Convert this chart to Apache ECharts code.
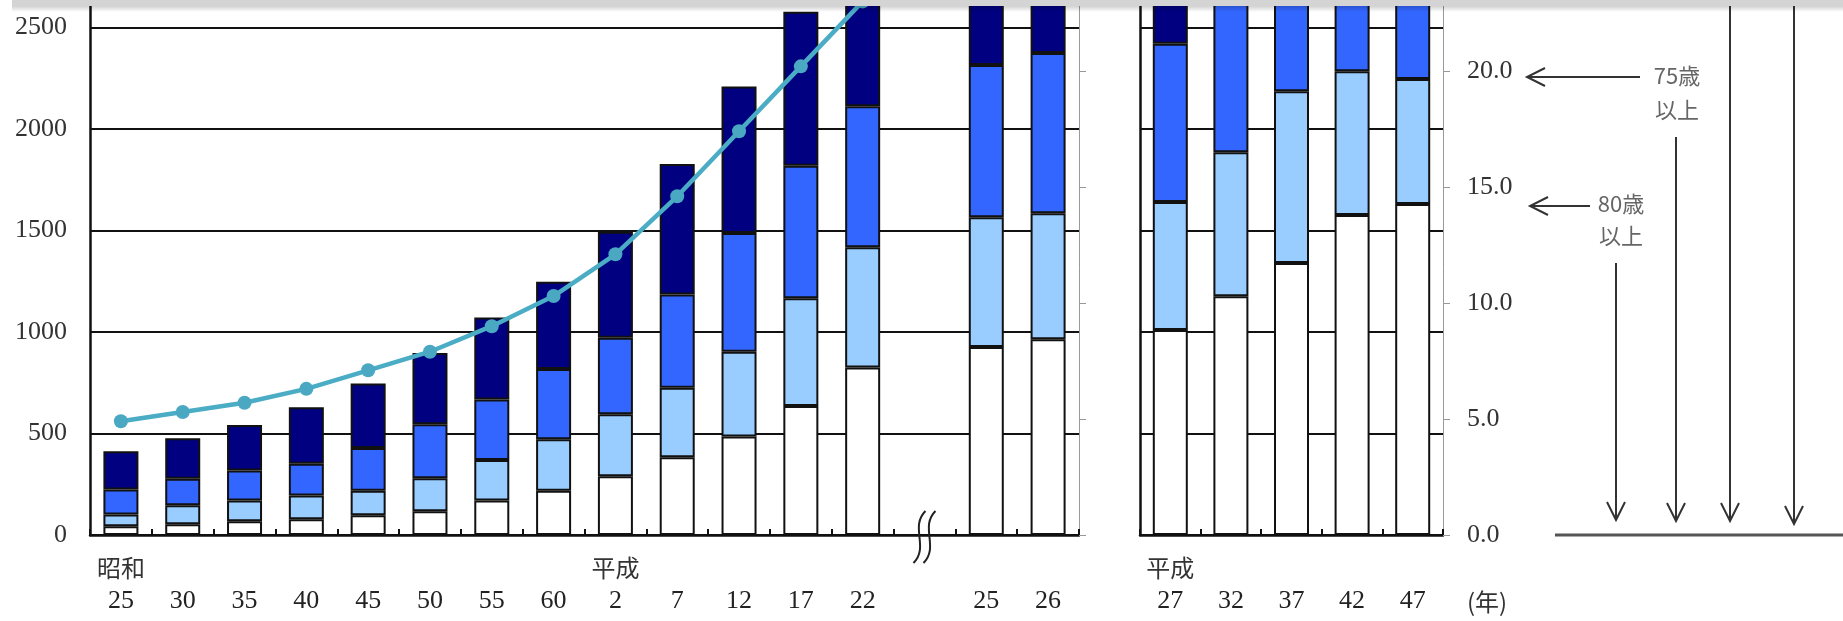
<!DOCTYPE html>
<html>
<head>
<meta charset="utf-8">
<script src="https://cdn.jsdelivr.net/npm/echarts@6/dist/echarts.min.js"></script>
<style>
html, body { margin: 0; padding: 0; background: #fff; }
#chart { width: 1843px; height: 621px; }
</style>
</head>
<body>
<div id="chart"></div>
<script>
// 年次（左パネル：実績、右パネル：推計）
var years1 = ['25', '30', '35', '40', '45', '50', '55', '60', '2', '7', '12', '17', '22', '', '25', '26'];
var eras1 = ['昭和', '', '', '', '', '', '', '', '平成', '', '', '', '', '', '', ''];
var years2 = ['27', '32', '37', '42', '47'];
var eras2 = ['平成', '', '', '', ''];

// 年齢階級別人口（万人） 下から 80歳以上 / 75〜79歳 / 70〜74歳 / 65〜69歳
var age80_1 = [43, 53, 68, 78, 97, 117, 170, 218, 290, 383, 485, 636, 825, '-', 926, 964];
var age75_1 = [58, 93, 102, 117, 121, 162, 200, 254, 305, 342, 418, 530, 593, '-', 639, 621];
var age70_1 = [123, 131, 148, 156, 211, 267, 298, 346, 377, 460, 585, 653, 694, '-', 750, 790];
var age65_1 = [189, 200, 224, 278, 317, 350, 404, 429, 522, 643, 721, 758, 813, '-', 875, 925];

var age80_2 = [1010, 1176, 1340, 1576, 1630];
var age75_2 = [630, 709, 846, 709, 616];
var age70_2 = [780, 895, 714, 675, 734];
var age65_2 = [975, 830, 760, 730, 760];

// 高齢化率（%）
var rate1 = [4.9, 5.3, 5.7, 6.3, 7.1, 7.9, 9.0, 10.3, 12.1, 14.6, 17.4, 20.2, 23.0, '-', 25.1, 26.0];

var colors = ['#ffffff', '#99ccff', '#3366ff', '#000080'];

var myChart = echarts.init(document.getElementById('chart'));

var numFont = '"Liberation Serif", serif';
var cjkFont = '"Noto Sans CJK JP", sans-serif';

function xLabel(eras) {
    return {
        interval: 0,
        margin: 17,
        formatter: function (v, i) {
            return '{e|' + (eras[i] || '　') + '}\n{n|' + v + '}';
        },
        rich: {
            e: { fontFamily: cjkFont, fontSize: 24, lineHeight: 32, color: '#333' },
            n: { fontFamily: numFont, fontSize: 26, lineHeight: 34, color: '#222' }
        }
    };
}

function xAxis(idx, data, eras) {
    return {
        type: 'category',
        gridIndex: idx,
        data: data,
        boundaryGap: true,
        axisLine: { lineStyle: { color: '#111', width: 2.5 } },
        axisTick: { show: true, inside: true, length: 6, lineStyle: { color: '#111', width: 2 } },
        axisLabel: xLabel(eras),
        splitLine: { show: false }
    };
}

function leftAxis(idx, showLabel) {
    return {
        type: 'value',
        gridIndex: idx,
        min: 0,
        max: 4000,
        interval: 500,
        axisLine: { show: true, lineStyle: { color: '#111', width: 2.5 } },
        axisTick: { show: false },
        axisLabel: {
            show: showLabel,
            margin: 23,
            fontFamily: numFont,
            fontSize: 26,
            color: '#333',
            formatter: function (v) { return String(v); }
        },
        splitLine: { show: true, lineStyle: { color: '#111', width: 2 } }
    };
}

function rightAxis(idx, showLabel) {
    return {
        type: 'value',
        gridIndex: idx,
        position: 'right',
        min: 0,
        max: 35,
        interval: 5,
        axisLine: { show: true, lineStyle: { color: '#999', width: 1 } },
        axisTick: { show: true, length: 7, lineStyle: { color: '#999', width: 1 } },
        axisLabel: {
            show: showLabel,
            margin: 24,
            align: 'left',
            fontFamily: numFont,
            fontSize: 26,
            color: '#333',
            formatter: function (v) { return v.toFixed(1); }
        },
        splitLine: { show: false }
    };
}

function barSeries(name, data, color, xi, yi, stack) {
    return {
        name: name,
        type: 'bar',
        stack: stack,
        xAxisIndex: xi,
        yAxisIndex: yi,
        barWidth: 35,
        data: data,
        itemStyle: { color: color, borderColor: '#111', borderWidth: 2 },
        emphasis: { disabled: true }
    };
}

var option = {
    animation: false,
    backgroundColor: '#fff',
    grid: [
        { left: 90, top: -277, width: 989, height: 812, containLabel: false, outerBoundsMode: 'none' },
        { left: 1140, top: -277, width: 303, height: 812, containLabel: false, outerBoundsMode: 'none' }
    ],
    xAxis: [xAxis(0, years1, eras1), xAxis(1, years2, eras2)],
    yAxis: [leftAxis(0, true), rightAxis(0, false), leftAxis(1, false), rightAxis(1, true)],
    series: [
        barSeries('80歳以上', age80_1, colors[0], 0, 0, 'a'),
        barSeries('75〜79歳', age75_1, colors[1], 0, 0, 'a'),
        barSeries('70〜74歳', age70_1, colors[2], 0, 0, 'a'),
        barSeries('65〜69歳', age65_1, colors[3], 0, 0, 'a'),
        barSeries('80歳以上', age80_2, colors[0], 1, 2, 'b'),
        barSeries('75〜79歳', age75_2, colors[1], 1, 2, 'b'),
        barSeries('70〜74歳', age70_2, colors[2], 1, 2, 'b'),
        barSeries('65〜69歳', age65_2, colors[3], 1, 2, 'b'),
        {
            name: '高齢化率',
            type: 'line',
            xAxisIndex: 0,
            yAxisIndex: 1,
            data: rate1,
            z: 5,
            symbol: 'circle',
            symbolSize: 14,
            lineStyle: { color: '#4bacc6', width: 4.5 },
            itemStyle: { color: '#4aa8c2' },
            emphasis: { disabled: true }
        }
    ]
};
myChart.setOption(option);

// 省略記号の位置は空のカテゴリから取る
var gapX = myChart.convertToPixel({ xAxisIndex: 0 }, 13);
var axisY = 535;

function arrowLine(x1, y1, x2, y2) {
    return { type: 'line', z: 50, shape: { x1: x1, y1: y1, x2: x2, y2: y2 }, style: { stroke: '#333', lineWidth: 2 } };
}
function arrowHead(pts) {
    return { type: 'polyline', z: 50, shape: { points: pts }, style: { stroke: '#333', lineWidth: 2, fill: null } };
}
function label(text, x, y, lh, size, fill) {
    return {
        type: 'text', z: 50,
        style: {
            text: text, x: x, y: y,
            font: size + 'px "Noto Sans CJK JP"',
            fill: fill, lineHeight: lh,
            align: 'center', verticalAlign: 'middle',
            textAlign: 'center', textVerticalAlign: 'middle'
        }
    };
}
function squiggle(x) {
    return {
        type: 'bezierCurve', z: 50,
        shape: { x1: x + 6, y1: axisY - 24, cpx1: x - 10, cpy1: axisY - 8, cpx2: x + 10, cpy2: axisY + 12, x2: x - 6, y2: axisY + 28 },
        style: { stroke: '#222', lineWidth: 2, fill: null }
    };
}

myChart.setOption({
    graphic: [
        // 上部の影
        { type: 'rect', z: 100, shape: { x: 12, y: 0, width: 1831, height: 6 }, style: { fill: '#d4d4d4' } },
        {
            type: 'rect', z: 100, shape: { x: 12, y: 6, width: 1831, height: 6 },
            style: { fill: new echarts.graphic.LinearGradient(0, 0, 0, 1, [
                { offset: 0, color: 'rgba(0,0,0,0.18)' }, { offset: 1, color: 'rgba(0,0,0,0)' }]) }
        },
        squiggle(gapX - 5),
        squiggle(gapX + 5),
        // 注記の矢印
        arrowLine(1640, 77, 1527, 77),
        arrowHead([[1545, 68], [1527, 77], [1545, 86]]),
        arrowLine(1590, 206, 1530, 206),
        arrowHead([[1548, 197], [1530, 206], [1548, 215]]),
        arrowLine(1616, 263, 1616, 520),
        arrowHead([[1607, 502], [1616, 520], [1625, 502]]),
        arrowLine(1676, 137, 1676, 521),
        arrowHead([[1667, 503], [1676, 521], [1685, 503]]),
        arrowLine(1730, 0, 1730, 521),
        arrowHead([[1721, 503], [1730, 521], [1739, 503]]),
        arrowLine(1794, 0, 1794, 524),
        arrowHead([[1785, 506], [1794, 524], [1803, 506]]),
        { type: 'line', z: 50, shape: { x1: 1555, y1: 535, x2: 1843, y2: 535 }, style: { stroke: '#555', lineWidth: 3 } },
        label('75歳\n以上', 1677, 93, 34, 22, '#666'),
        label('80歳\n以上', 1621, 220, 32, 22, '#666'),
        label('(年)', 1487, 602, 30, 24, '#333')
    ]
});
</script>
</body>
</html>
